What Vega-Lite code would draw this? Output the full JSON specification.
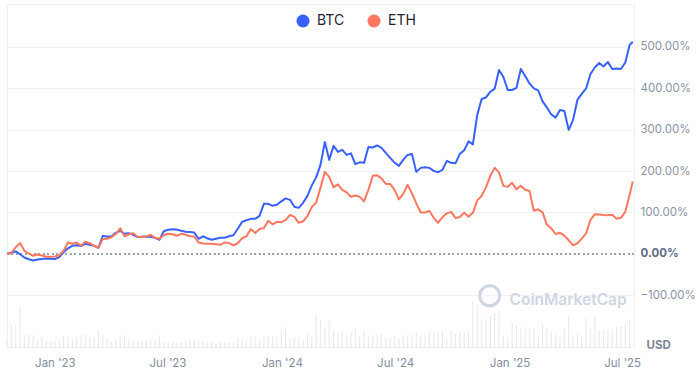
{
"$schema": "https://vega.github.io/schema/vega-lite/v6.json",
"width": 627, "height": 343,
"autosize": {"type": "none"},
"padding": {"left": 7, "top": 4, "right": 63, "bottom": 26},
"background": "white",
"config": {
  "view": {"stroke": "#eceff3", "strokeWidth": 1},
  "font": "Inter",
  "axis": {"labelFont": "Inter", "titleFont": "Inter"}
},
"data": {"values": [
{"d":"2022-10-16","BTC":0,"ETH":0,"vol":8},
{"d":"2022-10-23","BTC":2.4,"ETH":1.2,"vol":22},
{"d":"2022-10-30","BTC":5.6,"ETH":15.7,"vol":21},
{"d":"2022-11-06","BTC":-1.2,"ETH":25.8,"vol":40},
{"d":"2022-11-13","BTC":-8.9,"ETH":7.2,"vol":12},
{"d":"2022-11-20","BTC":-13.3,"ETH":0.7,"vol":12},
{"d":"2022-11-27","BTC":-16.2,"ETH":-4.8,"vol":12},
{"d":"2022-12-04","BTC":-13.8,"ETH":-1.9,"vol":8},
{"d":"2022-12-11","BTC":-12.6,"ETH":-4.1,"vol":10},
{"d":"2022-12-18","BTC":-11.4,"ETH":-7.2,"vol":6},
{"d":"2022-12-25","BTC":-12.1,"ETH":-7.2,"vol":6},
{"d":"2023-01-01","BTC":-12.8,"ETH":-6.5,"vol":6},
{"d":"2023-01-08","BTC":-8,"ETH":-3.6,"vol":6},
{"d":"2023-01-15","BTC":3.6,"ETH":7.2,"vol":11},
{"d":"2023-01-22","BTC":13.3,"ETH":27.3,"vol":11},
{"d":"2023-01-29","BTC":19.3,"ETH":24.2,"vol":9},
{"d":"2023-02-05","BTC":20.5,"ETH":27,"vol":10},
{"d":"2023-02-12","BTC":18.6,"ETH":19.3,"vol":12},
{"d":"2023-02-19","BTC":24.2,"ETH":29,"vol":12},
{"d":"2023-02-26","BTC":21.7,"ETH":25.8,"vol":9},
{"d":"2023-03-05","BTC":19.3,"ETH":19.3,"vol":10},
{"d":"2023-03-12","BTC":14.5,"ETH":14.5,"vol":17},
{"d":"2023-03-19","BTC":43.5,"ETH":35.5,"vol":12},
{"d":"2023-03-26","BTC":41,"ETH":36.2,"vol":8},
{"d":"2023-04-02","BTC":42.3,"ETH":39.8,"vol":6},
{"d":"2023-04-09","BTC":50.7,"ETH":48.3,"vol":8},
{"d":"2023-04-16","BTC":55.5,"ETH":61.6,"vol":10},
{"d":"2023-04-23","BTC":48.3,"ETH":42.3,"vol":12},
{"d":"2023-04-30","BTC":49.5,"ETH":47.1,"vol":8},
{"d":"2023-05-07","BTC":45.9,"ETH":49.5,"vol":7},
{"d":"2023-05-14","BTC":40.3,"ETH":41,"vol":6},
{"d":"2023-05-21","BTC":41,"ETH":40.3,"vol":6},
{"d":"2023-05-28","BTC":41.8,"ETH":41.8,"vol":6},
{"d":"2023-06-04","BTC":41,"ETH":45.9,"vol":7},
{"d":"2023-06-11","BTC":38.6,"ETH":38.6,"vol":6},
{"d":"2023-06-18","BTC":33.8,"ETH":36.2,"vol":12},
{"d":"2023-06-25","BTC":54.3,"ETH":44.7,"vol":5},
{"d":"2023-07-02","BTC":58,"ETH":48.3,"vol":5},
{"d":"2023-07-09","BTC":59.1,"ETH":47.1,"vol":5},
{"d":"2023-07-16","BTC":58.4,"ETH":43.5,"vol":4},
{"d":"2023-07-23","BTC":55.5,"ETH":48.3,"vol":5},
{"d":"2023-07-30","BTC":53.1,"ETH":45.9,"vol":7},
{"d":"2023-08-06","BTC":52.4,"ETH":42.3,"vol":7},
{"d":"2023-08-13","BTC":51.4,"ETH":41.8,"vol":6},
{"d":"2023-08-20","BTC":36.2,"ETH":27.3,"vol":6},
{"d":"2023-08-27","BTC":42.3,"ETH":24.9,"vol":6},
{"d":"2023-09-03","BTC":37.4,"ETH":24.2,"vol":5},
{"d":"2023-09-10","BTC":33.8,"ETH":24.2,"vol":5},
{"d":"2023-09-17","BTC":36.2,"ETH":22.9,"vol":4},
{"d":"2023-09-24","BTC":38.6,"ETH":21.7,"vol":5},
{"d":"2023-10-01","BTC":38.6,"ETH":27.3,"vol":5},
{"d":"2023-10-08","BTC":42.3,"ETH":25.8,"vol":4},
{"d":"2023-10-15","BTC":44.7,"ETH":20.5,"vol":5},
{"d":"2023-10-22","BTC":60.4,"ETH":25.4,"vol":10},
{"d":"2023-10-29","BTC":77.3,"ETH":37.9,"vol":9},
{"d":"2023-11-05","BTC":80.9,"ETH":42.3,"vol":7},
{"d":"2023-11-12","BTC":84.5,"ETH":59.8,"vol":11},
{"d":"2023-11-19","BTC":84.5,"ETH":50,"vol":10},
{"d":"2023-11-26","BTC":91.8,"ETH":59.7,"vol":8},
{"d":"2023-12-03","BTC":120.8,"ETH":62,"vol":11},
{"d":"2023-12-10","BTC":120.8,"ETH":79.7,"vol":11},
{"d":"2023-12-17","BTC":115.9,"ETH":71.2,"vol":11},
{"d":"2023-12-24","BTC":118.3,"ETH":77.3,"vol":10},
{"d":"2023-12-31","BTC":126.8,"ETH":76.1,"vol":17},
{"d":"2024-01-07","BTC":134,"ETH":82.1,"vol":20},
{"d":"2024-01-14","BTC":130.4,"ETH":94.2,"vol":8},
{"d":"2024-01-21","BTC":113.5,"ETH":89.4,"vol":10},
{"d":"2024-01-28","BTC":111,"ETH":74.9,"vol":10},
{"d":"2024-02-04","BTC":123.2,"ETH":78.5,"vol":7},
{"d":"2024-02-11","BTC":140,"ETH":91.3,"vol":14},
{"d":"2024-02-18","BTC":165.4,"ETH":112.8,"vol":11},
{"d":"2024-02-25","BTC":184.7,"ETH":123.9,"vol":32},
{"d":"2024-03-03","BTC":215,"ETH":159.4,"vol":27},
{"d":"2024-03-10","BTC":270.5,"ETH":198,"vol":19},
{"d":"2024-03-17","BTC":227,"ETH":186,"vol":26},
{"d":"2024-03-24","BTC":260.8,"ETH":160.6,"vol":16},
{"d":"2024-03-31","BTC":246.3,"ETH":167.8,"vol":15},
{"d":"2024-04-07","BTC":251,"ETH":154.6,"vol":16},
{"d":"2024-04-14","BTC":239,"ETH":148.5,"vol":12},
{"d":"2024-04-21","BTC":242.7,"ETH":137.7,"vol":14},
{"d":"2024-04-28","BTC":217,"ETH":140.8,"vol":18},
{"d":"2024-05-05","BTC":221,"ETH":137.7,"vol":11},
{"d":"2024-05-12","BTC":219.8,"ETH":126.8,"vol":16},
{"d":"2024-05-19","BTC":258.4,"ETH":154.6,"vol":12},
{"d":"2024-05-26","BTC":257,"ETH":188.4,"vol":11},
{"d":"2024-06-02","BTC":262,"ETH":189.6,"vol":13},
{"d":"2024-06-09","BTC":256,"ETH":182.3,"vol":13},
{"d":"2024-06-16","BTC":244,"ETH":169,"vol":8},
{"d":"2024-06-23","BTC":231.8,"ETH":169,"vol":9},
{"d":"2024-06-30","BTC":220.5,"ETH":154.6,"vol":11},
{"d":"2024-07-07","BTC":212.5,"ETH":131.6,"vol":9},
{"d":"2024-07-14","BTC":227,"ETH":144.9,"vol":12},
{"d":"2024-07-21","BTC":239,"ETH":166.6,"vol":11},
{"d":"2024-07-28","BTC":241.5,"ETH":146.1,"vol":12},
{"d":"2024-08-04","BTC":198,"ETH":122,"vol":15},
{"d":"2024-08-11","BTC":207.7,"ETH":99.7,"vol":11},
{"d":"2024-08-18","BTC":209,"ETH":99.7,"vol":12},
{"d":"2024-08-25","BTC":207.7,"ETH":103.8,"vol":15},
{"d":"2024-09-01","BTC":200.4,"ETH":86.9,"vol":14},
{"d":"2024-09-08","BTC":197.3,"ETH":74.9,"vol":15},
{"d":"2024-09-15","BTC":202.9,"ETH":88.6,"vol":16},
{"d":"2024-09-22","BTC":224.6,"ETH":97.8,"vol":9},
{"d":"2024-09-29","BTC":219.8,"ETH":101.4,"vol":16},
{"d":"2024-10-06","BTC":218.6,"ETH":86.5,"vol":14},
{"d":"2024-10-13","BTC":241.5,"ETH":88.9,"vol":14},
{"d":"2024-10-20","BTC":250.4,"ETH":99.5,"vol":15},
{"d":"2024-10-27","BTC":271.7,"ETH":89.4,"vol":16},
{"d":"2024-11-03","BTC":264.4,"ETH":99,"vol":46},
{"d":"2024-11-10","BTC":335.7,"ETH":129.2,"vol":42},
{"d":"2024-11-17","BTC":374.3,"ETH":140,"vol":27},
{"d":"2024-11-24","BTC":378,"ETH":160.6,"vol":28},
{"d":"2024-12-01","BTC":391.2,"ETH":188.4,"vol":31},
{"d":"2024-12-08","BTC":399.2,"ETH":207.7,"vol":34},
{"d":"2024-12-15","BTC":444.4,"ETH":196.8,"vol":36},
{"d":"2024-12-22","BTC":427.5,"ETH":164.2,"vol":12},
{"d":"2024-12-29","BTC":396,"ETH":161.8,"vol":9},
{"d":"2025-01-05","BTC":396,"ETH":171.5,"vol":24},
{"d":"2025-01-12","BTC":400.9,"ETH":155.8,"vol":21},
{"d":"2025-01-19","BTC":446.8,"ETH":164.7,"vol":20},
{"d":"2025-01-26","BTC":429.9,"ETH":154.6,"vol":18},
{"d":"2025-02-02","BTC":411.8,"ETH":152,"vol":18},
{"d":"2025-02-09","BTC":399.7,"ETH":103.8,"vol":19},
{"d":"2025-02-16","BTC":394.9,"ETH":107.5,"vol":11},
{"d":"2025-02-23","BTC":368.3,"ETH":100.2,"vol":24},
{"d":"2025-03-02","BTC":353.8,"ETH":70,"vol":19},
{"d":"2025-03-09","BTC":336.9,"ETH":61.6,"vol":16},
{"d":"2025-03-16","BTC":329.2,"ETH":47.8,"vol":14},
{"d":"2025-03-23","BTC":347.8,"ETH":50.7,"vol":9},
{"d":"2025-03-30","BTC":345.3,"ETH":44,"vol":19},
{"d":"2025-04-06","BTC":299.5,"ETH":32.6,"vol":31},
{"d":"2025-04-13","BTC":323.6,"ETH":20.5,"vol":12},
{"d":"2025-04-20","BTC":371.9,"ETH":25.4,"vol":15},
{"d":"2025-04-27","BTC":386.4,"ETH":36.7,"vol":11},
{"d":"2025-05-04","BTC":399.7,"ETH":49.5,"vol":29},
{"d":"2025-05-11","BTC":434.7,"ETH":82.1,"vol":18},
{"d":"2025-05-18","BTC":450.4,"ETH":95.6,"vol":31},
{"d":"2025-05-25","BTC":461.3,"ETH":94.9,"vol":17},
{"d":"2025-06-01","BTC":452.8,"ETH":93.5,"vol":18},
{"d":"2025-06-08","BTC":463.7,"ETH":93,"vol":17},
{"d":"2025-06-15","BTC":446.8,"ETH":94.2,"vol":18},
{"d":"2025-06-22","BTC":448,"ETH":84.5,"vol":20},
{"d":"2025-06-29","BTC":446.8,"ETH":86.9,"vol":21},
{"d":"2025-07-06","BTC":462.5,"ETH":101.4,"vol":24},
{"d":"2025-07-13","BTC":504.7,"ETH":142.5,"vol":27},
{"d":"2025-07-18","BTC":512.7,"ETH":174.6}
]},
"layer": [
  {
    "mark": {"type": "rule", "color": "#e8ebf1", "strokeWidth": 1.2},
    "encoding": {
      "x": {"field": "d", "type": "temporal",
        "scale": {"domain": [{"year": 2022, "month": 10, "date": 16}, {"year": 2025, "month": 7, "date": 20}]},
        "axis": {"title": null, "format": "%b '%y", "domain": false, "ticks": false, "grid": false,
          "values": [{"year": 2023, "month": 1, "date": 1}, {"year": 2023, "month": 7, "date": 1}, {"year": 2024, "month": 1, "date": 1}, {"year": 2024, "month": 7, "date": 1}, {"year": 2025, "month": 1, "date": 1}, {"year": 2025, "month": 7, "date": 1}],
          "labelFontSize": 11.5, "labelColor": "#858ca2", "labelPadding": 10, "labelFlush": false}},
      "y": {"field": "vol", "type": "quantitative", "scale": {"domain": [0, 343]}, "axis": null},
      "y2": {"datum": 0}
    }
  },
  {
    "layer": [
      {
        "mark": {"type": "rule", "color": "#9aa1b1", "strokeWidth": 1, "strokeDash": [1.5, 3]},
        "encoding": {"y": {"datum": 0, "type": "quantitative"}}
      },
      {
        "data": {"values": [{"t": "CoinMarketCap"}]},
        "mark": {"type": "text", "align": "left", "baseline": "middle", "fontSize": 15.5, "fontWeight": 600, "color": "#cfd5e1", "font": "Inter"},
        "encoding": {
          "x": {"datum": {"year": 2025, "month": 1, "date": 1}, "type": "temporal"},
          "y": {"datum": -111, "type": "quantitative"},
          "text": {"field": "t"}
        }
      },
      {
        "data": {"values": [{"t": "logo"}]},
        "mark": {"type": "point", "shape": "circle", "filled": false, "size": 400, "strokeWidth": 3, "color": "#cfd5e1", "opacity": 1},
        "encoding": {
          "x": {"datum": {"year": 2024, "month": 11, "date": 30}, "type": "temporal"},
          "y": {"datum": -101.5, "type": "quantitative"}
        }
      },
      {
        "transform": [{"fold": ["BTC", "ETH"], "as": ["coin", "pct"]}],
        "mark": {"type": "line", "strokeWidth": 2, "strokeJoin": "round"},
        "encoding": {
          "x": {"field": "d", "type": "temporal",
            "scale": {"domain": [{"year": 2022, "month": 10, "date": 16}, {"year": 2025, "month": 7, "date": 20}]},
            "axis": {"title": null, "format": "%b '%y", "domain": false, "ticks": false, "grid": false,
              "values": [{"year": 2023, "month": 1, "date": 1}, {"year": 2023, "month": 7, "date": 1}, {"year": 2024, "month": 1, "date": 1}, {"year": 2024, "month": 7, "date": 1}, {"year": 2025, "month": 1, "date": 1}, {"year": 2025, "month": 7, "date": 1}],
              "labelFontSize": 11.5, "labelColor": "#858ca2", "labelPadding": 10, "labelFlush": false}},
          "y": {"field": "pct", "type": "quantitative",
            "scale": {"domain": [-225.4, 603.9], "nice": false, "zero": false},
            "axis": {"orient": "right", "values": [-100, 0, 100, 200, 300, 400, 500],
              "labelExpr": "format(datum.value, '.2f') + '%'",
              "domain": false, "ticks": false, "labelPadding": 6, "labelFontSize": 11.5,
              "labelColor": {"condition": {"test": "datum.value === 0", "value": "#616e85"}, "value": "#8a93a6"},
              "labelFontWeight": {"condition": {"test": "datum.value === 0", "value": "bold"}, "value": "normal"},
              "grid": true, "gridColor": "#eff2f5", "gridWidth": 1,
              "gridOpacity": {"condition": {"test": "datum.value === 0", "value": 0}, "value": 1},
              "title": "USD", "titleAngle": 0, "titleX": 12, "titleY": 344, "titleAlign": "left", "titleBaseline": "alphabetic",
              "titleFontSize": 11.5, "titleColor": "#7d8599", "titleFontWeight": "bold"}},
          "color": {"field": "coin", "type": "nominal",
            "scale": {"domain": ["BTC", "ETH"], "range": ["#3861fb", "#ff775f"]},
            "legend": {"orient": "none", "legendX": 289, "legendY": 10, "direction": "horizontal", "title": null,
              "symbolType": "circle", "symbolSize": 169, "symbolStrokeWidth": 0,
              "labelFontSize": 14, "labelColor": "#222531", "labelFont": "Inter", "labelOffset": 7, "columnPadding": 22,
              "encode": {"symbols": {"update": {"fill": {"scale": "color", "field": "value"}, "strokeWidth": {"value": 0}}}}}}
        }
      }
    ]
  }
],
"resolve": {"scale": {"y": "independent"}}
}
